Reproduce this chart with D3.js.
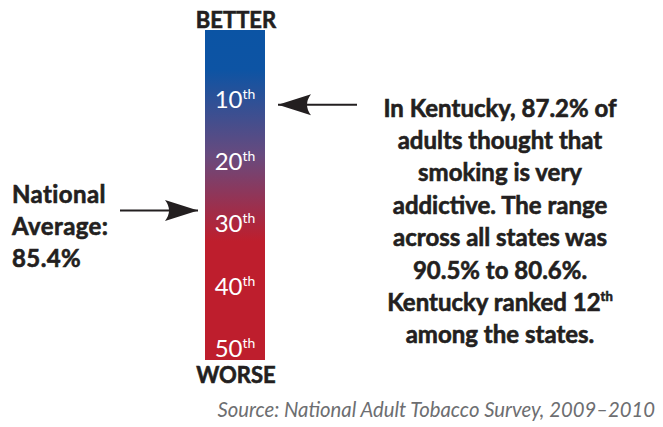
<!DOCTYPE html>
<html><head><meta charset="utf-8">
<script src="https://cdn.jsdelivr.net/npm/d3@7"></script>
<style>html,body{margin:0;padding:0;background:#fff;}</style>
</head><body>
<svg id="chart" width="663" height="427"></svg>
<script>
const rankTicks = [10, 20, 30, 40, 50];
const rankDomain = [0, 53];
const kentuckyRank = 12;
const nationalRank = 29;
const topLabel = "BETTER";
const bottomLabel = "WORSE";
const nationalLines = ["National", "Average:", "85.4%"];
const kentuckyLines = ["In Kentucky, 87.2% of", "adults thought that", "smoking is very", "addictive. The range", "across all states was", "90.5% to 80.6%.", "Kentucky ranked 12|th", "among the states."];
const sourceText = "Source: National Adult Tobacco Survey, 2009\u20132010";

const svg = d3.select("#chart");
const FONT = "Lato, 'Open Sans', sans-serif";
const dark = "#231f20";
const y = d3.scaleLinear().domain(rankDomain).range([30, 360]);
const barX = 205, barW = 60, cx = barX + barW / 2;

const defs = svg.append("defs");
const grad = defs.append("linearGradient").attr("id", "g").attr("x1", 0).attr("y1", 0).attr("x2", 0).attr("y2", 1);
[[0, "#0b54a4"], [0.12, "#0d54a4"], [0.38, "#684a7e"], [0.64, "#be1e2d"], [1, "#be1e2d"]].forEach(([o, c]) =>
  grad.append("stop").attr("offset", o).attr("stop-color", c));
const m = defs.append("marker").attr("id", "arrow").attr("viewBox", "0 0 34 22").attr("refX", 33).attr("refY", 11)
  .attr("markerWidth", 34).attr("markerHeight", 22).attr("markerUnits", "userSpaceOnUse").attr("orient", "auto");
m.append("path").attr("d", "M33,11 L0,0.5 Q8,11 0,21.5 Z").attr("fill", dark);

svg.append("rect").attr("x", barX).attr("y", y(rankDomain[0])).attr("width", barW)
  .attr("height", y(rankDomain[1]) - y(rankDomain[0])).attr("fill", "url(#g)");

const lab = svg.selectAll("text.rank").data(rankTicks).join("text").attr("class", "rank")
  .attr("x", cx).attr("y", d => y(d) + 15.5).attr("text-anchor", "middle")
  .attr("font-family", FONT).attr("font-size", 24).attr("fill", "#fff");
lab.append("tspan").text(d => d);
lab.append("tspan").attr("font-size", 14).attr("dy", -9).text("th");

const boldText = sel => sel.attr("font-family", FONT).attr("font-weight", 700).attr("fill", dark)
  .attr("stroke", dark).attr("stroke-width", 0.6);

svg.append("text").attr("x", cx + 1).attr("y", 28).attr("text-anchor", "middle").attr("font-size", 22)
  .call(boldText).text(topLabel);
svg.append("text").attr("x", cx + 1).attr("y", 383).attr("text-anchor", "middle").attr("font-size", 22)
  .call(boldText).text(bottomLabel);

svg.append("line").attr("x1", 357).attr("x2", 278).attr("y1", y(kentuckyRank)).attr("y2", y(kentuckyRank))
  .attr("stroke", dark).attr("stroke-width", 2).attr("marker-end", "url(#arrow)");
svg.append("line").attr("x1", 120).attr("x2", 198).attr("y1", y(nationalRank)).attr("y2", y(nationalRank))
  .attr("stroke", dark).attr("stroke-width", 2).attr("marker-end", "url(#arrow)");

svg.selectAll("text.nat").data(nationalLines).join("text").attr("class", "nat")
  .attr("x", 12).attr("y", (d, i) => 203 + i * 32).attr("font-size", 24).attr("letter-spacing", 0.4)
  .call(boldText).text(d => d);

const kt = svg.selectAll("text.ky").data(kentuckyLines).join("text").attr("class", "ky")
  .attr("x", 500).attr("y", (d, i) => 116.5 + i * 32.4).attr("text-anchor", "middle").attr("font-size", 24)
  .call(boldText);
kt.each(function(d) {
  const parts = d.split("|");
  const t = d3.select(this);
  t.append("tspan").text(parts[0]);
  if (parts[1]) t.append("tspan").attr("font-size", 13).attr("dy", -10).text(parts[1]);
});

svg.append("text").attr("x", 655).attr("y", 417).attr("text-anchor", "end").attr("font-family", FONT)
  .attr("font-style", "italic").attr("font-size", 20.3).attr("fill", "#6d6e71").text(sourceText);
</script>
</body></html>
